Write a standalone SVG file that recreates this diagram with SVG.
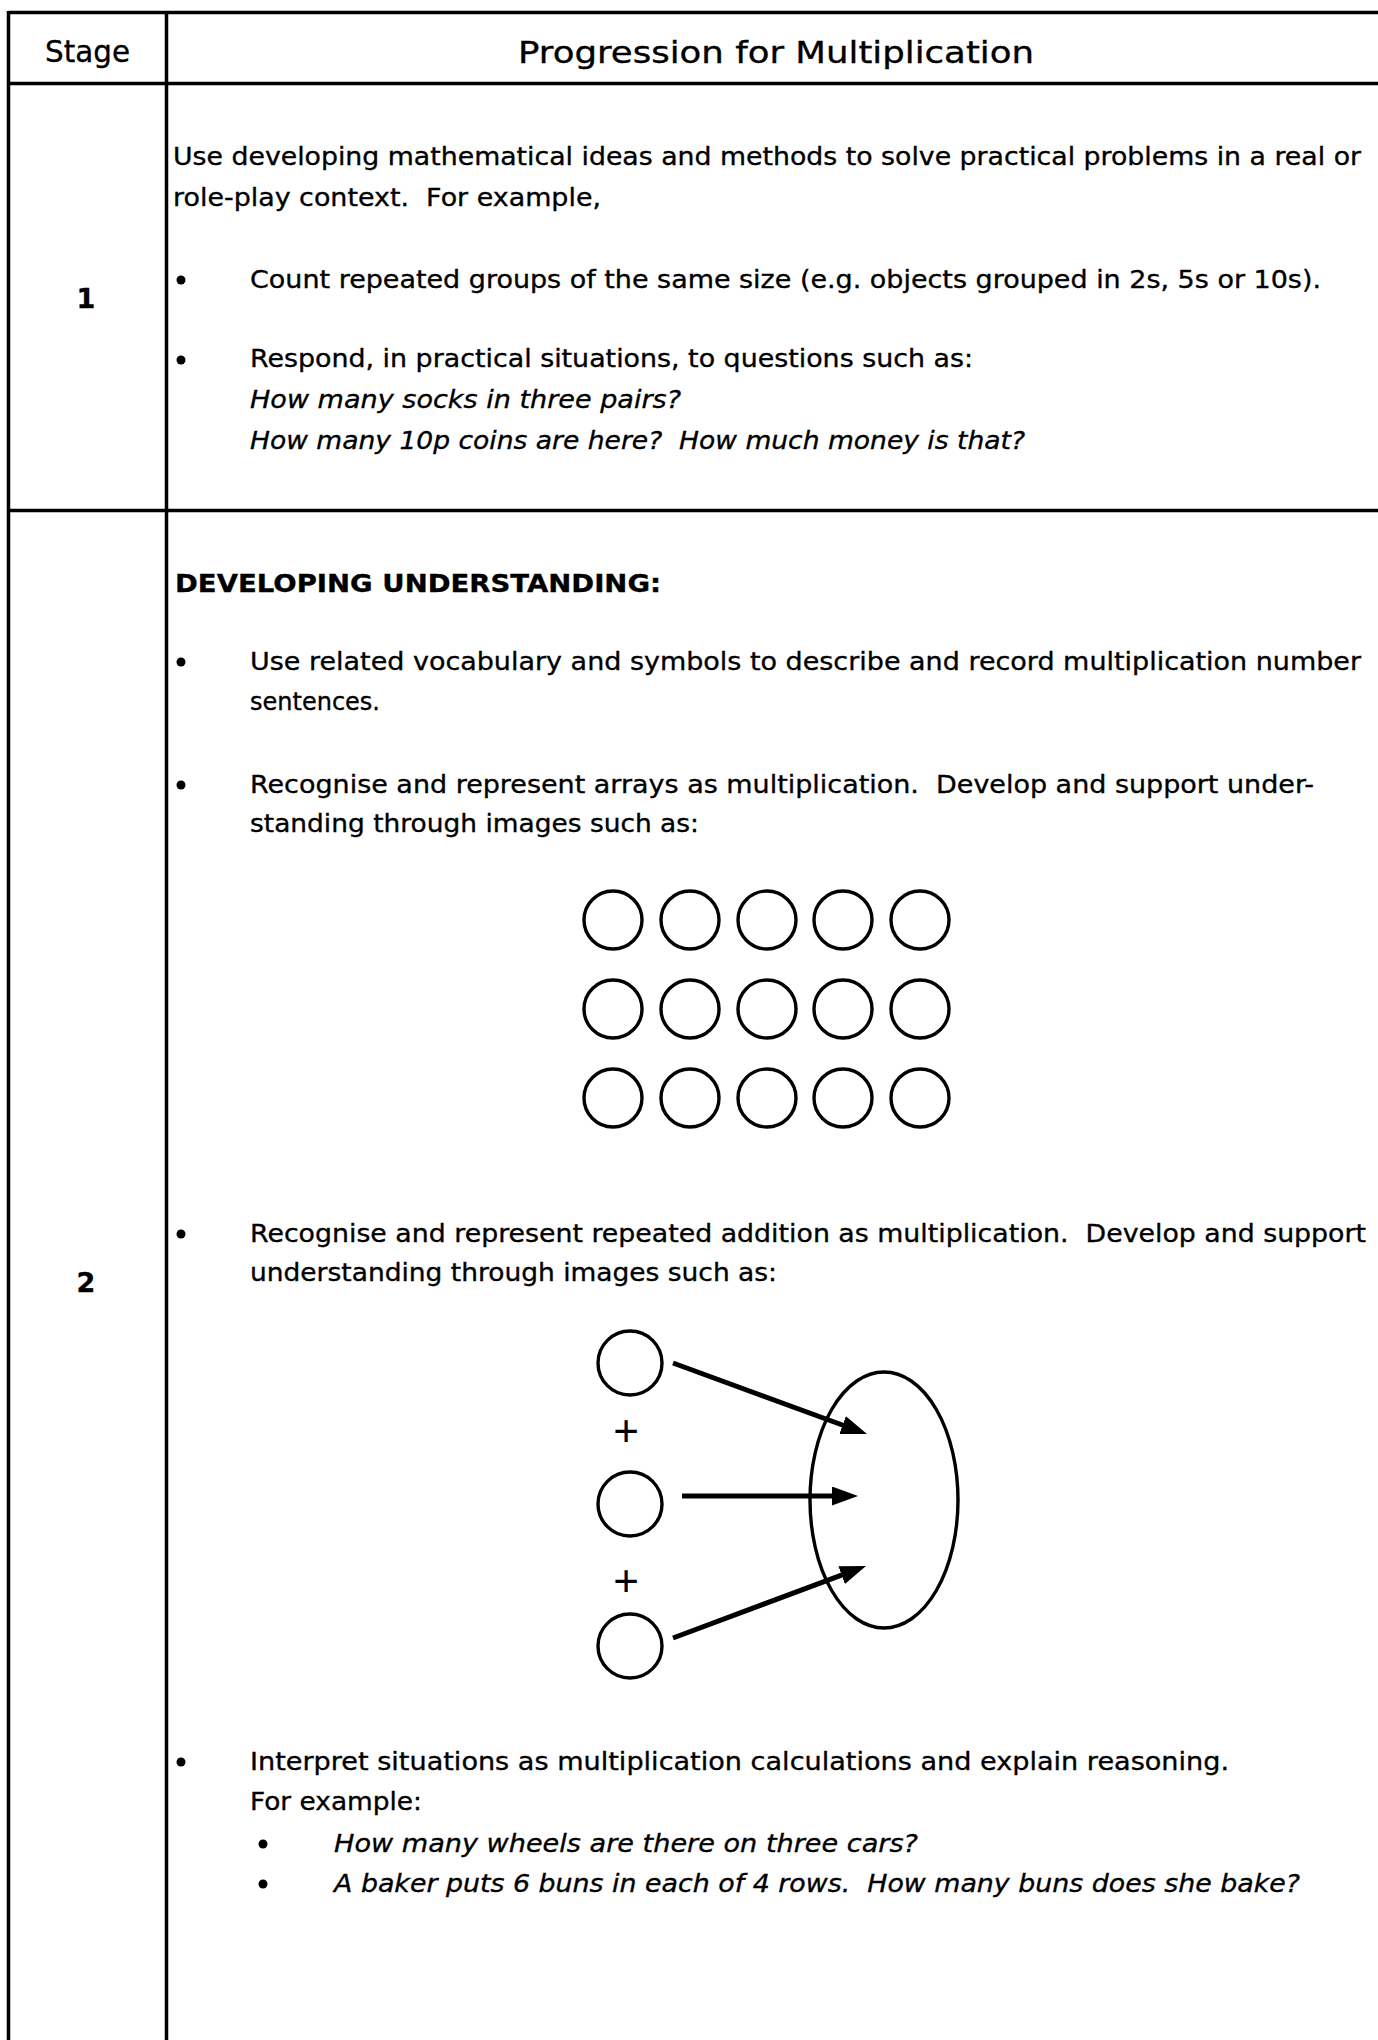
<svg xmlns="http://www.w3.org/2000/svg" width="1378" height="2040" viewBox="0 0 1378 2040" xml:space="preserve">
<style>
text{font-family:"DejaVu Sans","Noto Sans",sans-serif;font-size:25.5px;fill:#000;stroke:#000;stroke-width:0.35;white-space:pre}
.hd{font-size:31px}
.st{font-size:27px;font-weight:bold}
.b{font-weight:bold}
.i{font-style:italic}
.grid{stroke:#000;stroke-width:3.5;fill:none}
.bul{fill:#000}
.c{fill:none;stroke:#000;stroke-width:3.4}
.arr{stroke:#000;stroke-width:5;fill:none}
.plus{font-family:"Liberation Sans",Arial,sans-serif;font-size:44px;stroke-width:0}
</style>
<defs>
<marker id="ah" markerUnits="userSpaceOnUse" markerWidth="26" markerHeight="20" refX="7" refY="9.5" orient="auto">
<path d="M0,0 L26,9.5 L0,19 z" fill="#000"/>
</marker>
</defs>
<rect width="1378" height="2040" fill="#fff"/>
<g id="table">
<line class="grid" x1="8.5" y1="12.5" x2="1378" y2="12.5"/>
<line class="grid" x1="8.5" y1="83.5" x2="1378" y2="83.5"/>
<line class="grid" x1="8.5" y1="510.5" x2="1378" y2="510.5"/>
<line class="grid" x1="8.5" y1="11" x2="8.5" y2="2040"/>
<line class="grid" x1="166.5" y1="11" x2="166.5" y2="2040"/>
</g>
<g id="header">
<text class="hd" x="45" y="62" textLength="85" lengthAdjust="spacingAndGlyphs">Stage</text>
<text class="hd" x="518" y="63" textLength="516" lengthAdjust="spacingAndGlyphs">Progression for Multiplication</text>
</g>
<g id="stage1">
<text class="st" x="86" y="308" text-anchor="middle">1</text>
<text x="173" y="165" textLength="1188" lengthAdjust="spacingAndGlyphs">Use developing mathematical ideas and methods to solve practical problems in a real or</text>
<text x="173" y="206" textLength="428" lengthAdjust="spacingAndGlyphs">role-play context.  For example,</text>
<circle class="bul" cx="181" cy="280" r="4.5"/>
<text x="250" y="288" textLength="1071" lengthAdjust="spacingAndGlyphs">Count repeated groups of the same size (e.g. objects grouped in 2s, 5s or 10s).</text>
<circle class="bul" cx="181" cy="360" r="4.5"/>
<text x="250" y="367" textLength="723" lengthAdjust="spacingAndGlyphs">Respond, in practical situations, to questions such as:</text>
<text class="i" x="250" y="408" textLength="431" lengthAdjust="spacingAndGlyphs">How many socks in three pairs?</text>
<text class="i" x="250" y="449" textLength="775" lengthAdjust="spacingAndGlyphs">How many 10p coins are here?  How much money is that?</text>
</g>
<g id="stage2">
<text class="st" x="86" y="1292" text-anchor="middle">2</text>
<text class="b" x="175" y="592" textLength="486" lengthAdjust="spacingAndGlyphs">DEVELOPING UNDERSTANDING:</text>
<circle class="bul" cx="181" cy="662" r="4.5"/>
<text x="250" y="670" textLength="1111" lengthAdjust="spacingAndGlyphs">Use related vocabulary and symbols to describe and record multiplication number</text>
<text x="250" y="710" textLength="130" lengthAdjust="spacingAndGlyphs">sentences.</text>
<circle class="bul" cx="181" cy="785" r="4.5"/>
<text x="250" y="793" textLength="1064" lengthAdjust="spacingAndGlyphs">Recognise and represent arrays as multiplication.  Develop and support under-</text>
<text x="250" y="832" textLength="449" lengthAdjust="spacingAndGlyphs">standing through images such as:</text>
<circle class="bul" cx="181" cy="1234" r="4.5"/>
<text x="250" y="1242" textLength="1116" lengthAdjust="spacingAndGlyphs">Recognise and represent repeated addition as multiplication.  Develop and support</text>
<text x="250" y="1281" textLength="527" lengthAdjust="spacingAndGlyphs">understanding through images such as:</text>
<circle class="bul" cx="181" cy="1762" r="4.5"/>
<text x="250" y="1770" textLength="979" lengthAdjust="spacingAndGlyphs">Interpret situations as multiplication calculations and explain reasoning.</text>
<text x="250" y="1810" textLength="172" lengthAdjust="spacingAndGlyphs">For example:</text>
<circle class="bul" cx="263" cy="1844" r="4.5"/>
<text class="i" x="334" y="1852" textLength="584" lengthAdjust="spacingAndGlyphs">How many wheels are there on three cars?</text>
<circle class="bul" cx="263" cy="1884" r="4.5"/>
<text class="i" x="334" y="1892" textLength="966" lengthAdjust="spacingAndGlyphs">A baker puts 6 buns in each of 4 rows.  How many buns does she bake?</text>
</g>
<g id="array">
<circle class="c" cx="613" cy="920" r="29"/><circle class="c" cx="690" cy="920" r="29"/><circle class="c" cx="767" cy="920" r="29"/><circle class="c" cx="843" cy="920" r="29"/><circle class="c" cx="920" cy="920" r="29"/>
<circle class="c" cx="613" cy="1009" r="29"/><circle class="c" cx="690" cy="1009" r="29"/><circle class="c" cx="767" cy="1009" r="29"/><circle class="c" cx="843" cy="1009" r="29"/><circle class="c" cx="920" cy="1009" r="29"/>
<circle class="c" cx="613" cy="1098" r="29"/><circle class="c" cx="690" cy="1098" r="29"/><circle class="c" cx="767" cy="1098" r="29"/><circle class="c" cx="843" cy="1098" r="29"/><circle class="c" cx="920" cy="1098" r="29"/>
</g>
<g id="addend1"><circle class="c" cx="630" cy="1363" r="32"/></g>
<g id="addend2"><circle class="c" cx="630" cy="1504" r="32"/></g>
<g id="addend3"><circle class="c" cx="630" cy="1646" r="32"/></g>
<g id="plus-signs">
<text class="plus" x="626" y="1446" text-anchor="middle">+</text>
<text class="plus" x="626" y="1596" text-anchor="middle">+</text>
</g>
<g id="group"><ellipse class="c" cx="884" cy="1500" rx="74" ry="128"/></g>
<g id="connectors">
<line class="arr" x1="673" y1="1363" x2="849.2" y2="1427.5" marker-end="url(#ah)"/>
<line class="arr" x1="682" y1="1496" x2="839" y2="1496" marker-end="url(#ah)"/>
<line class="arr" x1="673" y1="1638" x2="848.2" y2="1572.6" marker-end="url(#ah)"/>
</g>
</svg>
